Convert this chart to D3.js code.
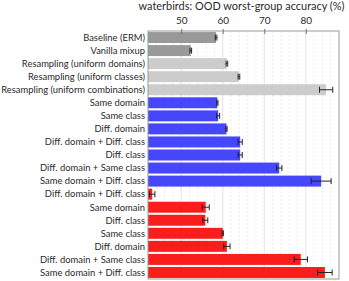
<!DOCTYPE html>
<html><head><meta charset="utf-8">
<script src="https://cdn.jsdelivr.net/npm/d3@7"></script>
<style>body{margin:0;background:#fff}svg{display:block}text{font-family:Lato,"DejaVu Sans",sans-serif;fill:#2a2a2a}</style>
</head><body><svg id="c" width="349" height="281"></svg>
<script>
const labels = ["Baseline (ERM)","Vanilla mixup","Resampling (uniform domains)","Resampling (uniform classes)","Resampling (uniform combinations)",
"Same domain","Same class","Diff. domain","Diff. domain + Diff. class","Diff. class","Diff. domain + Same class","Same domain + Diff. class",
"Diff. domain + Diff. class","Same domain","Diff. class","Same class","Diff. domain","Diff. domain + Same class","Same domain + Diff. class"];
const values = [58.4,52.3,61.0,63.9,84.9, 58.7,58.9,60.9,64.2,64.2,73.6,83.7, 43.0,55.9,55.8,60.0,61.0,78.8,84.6];
const errors = [0.2,0.2,0.2,0.2,1.6, 0.15,0.35,0.15,0.5,0.5,0.65,2.4, 0.65,0.85,0.6,0.15,0.75,1.6,1.75];
const groups = ["dark","dark","light","light","light","blue","blue","blue","blue","blue","blue","blue","red","red","red","red","red","red","red"];
const groupColors = {dark:"#999999",light:"#cccccc",blue:"#4646fb",red:"#fb1c1c"};
const xTicks = [50,60,70,80];
const xDomain = [42,88];
const title = "waterbirds: OOD worst-group accuracy (%)";

const svg = d3.select("#c");
const m = {l:148,r:10,t:31,b:2};
const W = 349, H = 281;
const x = d3.scaleLinear().domain(xDomain).range([m.l, W-m.r]);
const y = d3.scaleBand().domain(d3.range(labels.length)).range([m.t, H-m.b]).paddingInner(0.16).paddingOuter(0.08);

// grid
const minor = d3.range(44, 88, 2);
svg.append("g").selectAll("line").data(minor).join("line")
  .attr("x1",d=>x(d)).attr("x2",d=>x(d)).attr("y1",m.t).attr("y2",H-m.b)
  .attr("stroke", d=> xTicks.includes(d) ? "#e2e2e2" : "#ececec")
  .attr("stroke-dasharray", d=> xTicks.includes(d) ? null : "2,2")
  .attr("stroke-width",1);

// bars
svg.append("g").selectAll("rect").data(values).join("rect")
  .attr("x", x(xDomain[0])).attr("y",(d,i)=>y(i))
  .attr("width", d=>x(d)-x(xDomain[0])).attr("height", y.bandwidth())
  .attr("fill",(d,i)=>groupColors[groups[i]]);

// error bars
const eg = svg.append("g").attr("stroke","#222").attr("stroke-width",1);
values.forEach((v,i)=>{
  const cy = y(i)+y.bandwidth()/2, e = errors[i];
  eg.append("line").attr("x1",x(v-e)).attr("x2",x(v+e)).attr("y1",cy).attr("y2",cy);
  eg.append("line").attr("x1",x(v-e)).attr("x2",x(v-e)).attr("y1",cy-3).attr("y2",cy+3);
  eg.append("line").attr("x1",x(v+e)).attr("x2",x(v+e)).attr("y1",cy-3).attr("y2",cy+3);
});

// frame
svg.append("rect").attr("x",m.l).attr("y",m.t).attr("width",W-m.r-m.l).attr("height",H-m.b-m.t)
  .attr("fill","none").attr("stroke","#999").attr("stroke-width",1);

// top axis
const ax = svg.append("g").attr("transform",`translate(0,${m.t})`)
  .call(d3.axisTop(x).tickValues(xTicks).tickSize(3).tickPadding(4));
ax.select(".domain").remove();
ax.selectAll(".tick line").attr("stroke","#777").attr("y2",3).attr("y1",-2);
ax.selectAll("text").attr("font-size",10).style("font-family","Lato,'DejaVu Sans',sans-serif").attr("fill","#2a2a2a");

// y labels
const lab = svg.append("g").selectAll("text").data(labels).join("text")
  .attr("x", m.l-3).attr("y",(d,i)=>y(i)+y.bandwidth()/2).attr("dy","0.35em")
  .attr("text-anchor","end").attr("font-size",10).text(d=>d);
// fit longest label to available width
let maxW = 0; lab.each(function(){ maxW = Math.max(maxW, this.getComputedTextLength()); });
const lfs = 10 * 144 / maxW;
lab.attr("font-size", lfs);

const t = svg.append("text").attr("x",241.5).attr("y",10).attr("text-anchor","middle").attr("font-size",10).text(title);
const tw = t.node().getComputedTextLength();
t.attr("font-size", 10*206/tw);
</script></body></html>
